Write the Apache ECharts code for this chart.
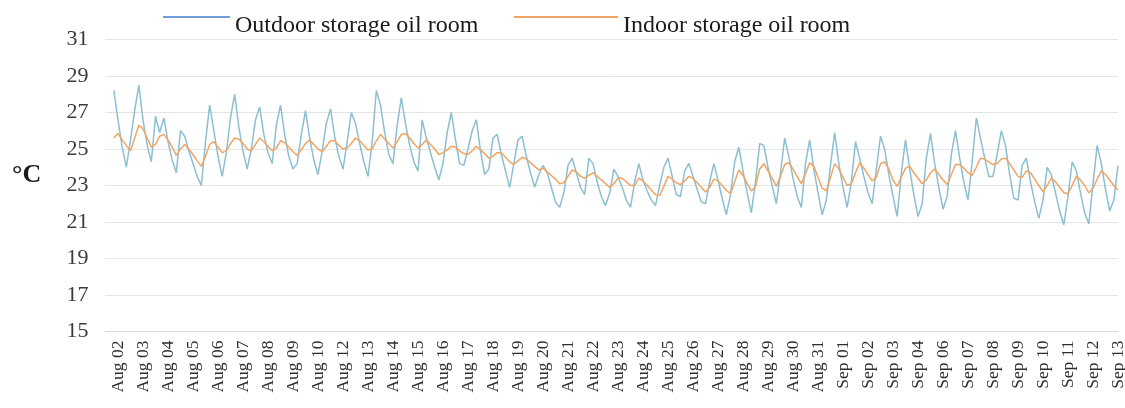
<!DOCTYPE html>
<html>
<head>
<meta charset="utf-8">
<script src="https://cdn.jsdelivr.net/npm/echarts@6/dist/echarts.min.js"></script>
<style>
html,body{margin:0;padding:0;background:#fff;}
#chart{width:1125px;height:408px;}
</style>
</head>
<body>
<div id="chart"></div>
<script>
// Date tick labels (one every 6 samples)
const tickLabels = ['Aug 02','Aug 03','Aug 04','Aug 05','Aug 06','Aug 07','Aug 08','Aug 09','Aug 10','Aug 12','Aug 13','Aug 14','Aug 15','Aug 16','Aug 17','Aug 18','Aug 19','Aug 20','Aug 21','Aug 22','Aug 23','Aug 24','Aug 25','Aug 26','Aug 27','Aug 28','Aug 29','Aug 30','Aug 31','Sep 01','Sep 02','Sep 03','Sep 04','Sep 06','Sep 07','Sep 08','Sep 09','Sep 10','Sep 11','Sep 12','Sep 13'];
const samplesPerLabel = 6;
const leadSamples = 1;   // one sample before the first label
const padSlots = 2;      // empty slots at the left edge of the plot

const seriesNames = ['Outdoor storage oil room', 'Indoor storage oil room'];

// Outdoor storage oil room temperature (°C)
const outdoor = [
28.2,26.6,25.1,24.0,25.5,27.1,28.5,
26.6,25.2,24.3,26.8,25.9,26.7,
25.4,24.4,23.7,26.0,25.7,24.9,
24.2,23.5,23.0,25.4,27.4,26.0,
24.6,23.5,24.8,26.7,28.0,26.2,
24.9,23.9,25.0,26.6,27.3,25.8,
24.8,24.2,26.3,27.4,25.8,24.6,
23.9,24.2,25.8,27.1,25.6,24.4,
23.6,24.9,26.4,27.2,25.7,24.6,
23.9,25.4,27.0,26.4,25.3,24.3,
23.5,25.4,28.2,27.4,25.9,24.7,
24.2,26.3,27.8,26.4,25.2,24.3,
23.8,26.6,25.6,24.8,24.0,23.3,
24.2,25.9,27.0,25.5,24.2,24.1,
25.0,26.0,26.6,24.9,23.6,23.9,
25.6,25.8,24.7,23.8,22.9,24.2,
25.5,25.7,24.6,23.7,22.9,23.6,
24.1,23.7,22.9,22.1,21.8,22.6,
24.1,24.5,23.7,22.9,22.5,24.5,
24.2,23.2,22.4,21.9,22.6,23.9,
23.5,22.9,22.2,21.8,23.2,24.2,
23.3,22.7,22.2,21.9,23.0,24.0,
24.5,23.5,22.5,22.4,23.8,24.2,
23.5,22.8,22.1,22.0,23.2,24.2,
23.3,22.3,21.4,22.5,24.3,25.1,
23.8,22.6,21.5,23.2,25.3,25.2,
24.0,23.0,22.0,23.7,25.6,24.6,
23.4,22.4,21.8,24.2,25.5,23.9,
22.6,21.4,22.2,24.1,25.9,24.2,
22.9,21.8,23.2,25.4,24.5,23.5,
22.6,22.0,23.9,25.7,25.0,23.6,
22.4,21.3,23.7,25.5,23.9,22.5,
21.3,22.0,24.5,25.85,24.2,22.9,
21.7,22.4,24.7,26.0,24.5,23.2,
22.2,24.3,26.7,25.6,24.5,23.5,
23.5,24.7,26.0,25.2,23.6,22.3,
22.2,24.1,24.5,23.2,22.1,21.2,
22.2,24.0,23.6,22.6,21.6,20.85,
22.4,24.3,23.8,22.6,21.5,20.9,
23.1,25.2,24.2,22.8,21.6,22.2,
24.1
];

// Indoor storage oil room temperature (°C)
const indoor = [
25.6,25.85,25.5,25.2,24.9,25.6,26.3,
26.1,25.6,25.1,25.25,25.7,25.8,
25.5,25.1,24.65,25.0,25.25,25.0,
24.7,24.35,24.05,24.6,25.25,25.4,
25.1,24.8,24.9,25.3,25.6,25.55,
25.3,25.0,24.9,25.25,25.6,25.4,
25.15,24.9,25.05,25.45,25.35,25.1,
24.85,24.65,24.95,25.3,25.5,25.25,
25.0,24.85,25.15,25.45,25.45,25.2,
25.0,25.05,25.3,25.6,25.45,25.2,
24.95,25.0,25.45,25.8,25.55,25.3,
25.05,25.4,25.8,25.85,25.6,25.3,
25.05,25.25,25.5,25.25,25.0,24.7,
24.8,24.95,25.15,25.1,24.9,24.75,
24.7,24.9,25.15,24.95,24.75,24.5,
24.6,24.8,24.8,24.55,24.3,24.15,
24.35,24.55,24.45,24.25,24.05,23.85,
23.95,23.75,23.55,23.35,23.1,23.15,
23.5,23.85,23.75,23.5,23.4,23.55,
23.7,23.5,23.3,23.1,22.9,23.1,
23.4,23.4,23.2,23.0,23.0,23.4,
23.25,23.0,22.75,22.5,22.45,22.95,
23.5,23.35,23.15,23.05,23.25,23.5,
23.4,23.15,22.9,22.65,22.9,23.35,
23.25,23.0,22.75,22.55,23.2,23.85,
23.55,23.1,22.7,22.95,23.9,24.2,
23.8,23.4,22.95,23.5,24.15,24.25,
23.9,23.5,23.1,23.65,24.25,24.05,
23.45,22.85,22.7,23.45,24.2,23.9,
23.45,23.0,23.1,23.7,24.25,23.95,
23.6,23.25,23.45,24.2,24.3,23.9,
23.3,22.95,23.45,23.95,24.05,23.7,
23.4,23.1,23.3,23.7,23.9,23.6,
23.3,23.05,23.6,24.15,24.15,23.95,
23.7,23.55,24.0,24.5,24.45,24.3,
24.15,24.2,24.45,24.5,24.2,23.85,
23.5,23.45,23.8,23.7,23.35,23.0,
22.65,23.0,23.4,23.2,22.9,22.6,
22.55,23.0,23.5,23.3,23.0,22.6,
22.85,23.35,23.8,23.6,23.3,23.0,
22.75
];

const yTicks = { min: 15, max: 31, step: 2 };

// Build the category axis: pad slots, then one category per sample.
const firstLabelIdx = padSlots + leadSamples;
const categories = [];
const total = padSlots + outdoor.length;
for (let c = 0; c < total; c++) {
  const rel = c - firstLabelIdx;
  if (rel >= 0 && rel % samplesPerLabel === 0 && tickLabels[rel / samplesPerLabel] !== undefined) {
    categories.push(tickLabels[rel / samplesPerLabel]);
  } else {
    categories.push('s' + c);
  }
}
const pad = new Array(padSlots).fill(null);

// legend icon: thin line at the top of a 20px-tall box
function topLineIcon(w) {
  return 'path://M0,0H' + w + 'V2H0Z M0,19.95H' + w + 'V20H0Z';
}

const chart = echarts.init(document.getElementById('chart'), null, { renderer: 'canvas' });
const serif = 'Liberation Serif';
chart.setOption({
  animation: false,
  backgroundColor: '#ffffff',
  grid: { left: 105.5, right: 7, top: 39.5, bottom: 76.5, containLabel: false, outerBoundsMode: 'none' },
  legend: [
    {
      left: 163, top: 14, padding: 0,
      data: [{ name: seriesNames[0], itemStyle: { color: '#6f9fd6' } }],
      icon: topLineIcon(67), itemWidth: 67, itemHeight: 20, symbolKeepAspect: false,
      textStyle: { fontFamily: serif, fontSize: 24, color: '#1a1a1a' }
    },
    {
      left: 514, top: 14, padding: 0,
      data: [{ name: seriesNames[1], itemStyle: { color: '#f0a564' } }],
      icon: topLineIcon(104), itemWidth: 104, itemHeight: 20, symbolKeepAspect: false,
      textStyle: { fontFamily: serif, fontSize: 24, color: '#1a1a1a' }
    }
  ],
  graphic: [
    { type: 'text', left: 12, top: 162, style: { text: '°C', font: 'bold 26px "Liberation Serif"', fill: '#1a1a1a' } }
  ],
  xAxis: {
    type: 'category',
    data: categories,
    boundaryGap: false,
    axisLine: { show: true, lineStyle: { color: '#d9d9d9', width: 1 } },
    axisTick: { show: false },
    splitLine: { show: false },
    axisLabel: {
      interval: function (idx) {
        const rel = idx - firstLabelIdx;
        return rel >= 0 && rel % samplesPerLabel === 0;
      },
      rotate: 90,
      margin: 9,
      fontFamily: serif,
      fontSize: 17.5,
      color: '#2e2e2e'
    }
  },
  yAxis: {
    type: 'value',
    min: yTicks.min, max: yTicks.max, interval: yTicks.step,
    axisLine: { show: false },
    axisTick: { show: false },
    splitLine: { show: true, lineStyle: { color: '#e4e4e4', width: 1 } },
    axisLabel: { fontFamily: serif, fontSize: 22, color: '#3a3a3a', margin: 17 }
  },
  series: [
    {
      name: seriesNames[0], type: 'line', data: pad.concat(outdoor),
      showSymbol: false, symbol: 'none', connectNulls: false,
      lineStyle: { color: '#8bbfd2', width: 1.5 }, itemStyle: { color: '#8bbfd2' }
    },
    {
      name: seriesNames[1], type: 'line', data: pad.concat(indoor),
      showSymbol: false, symbol: 'none',
      lineStyle: { color: '#f0a564', width: 1.5 }, itemStyle: { color: '#f0a564' }
    }
  ]
});
</script>
</body>
</html>
